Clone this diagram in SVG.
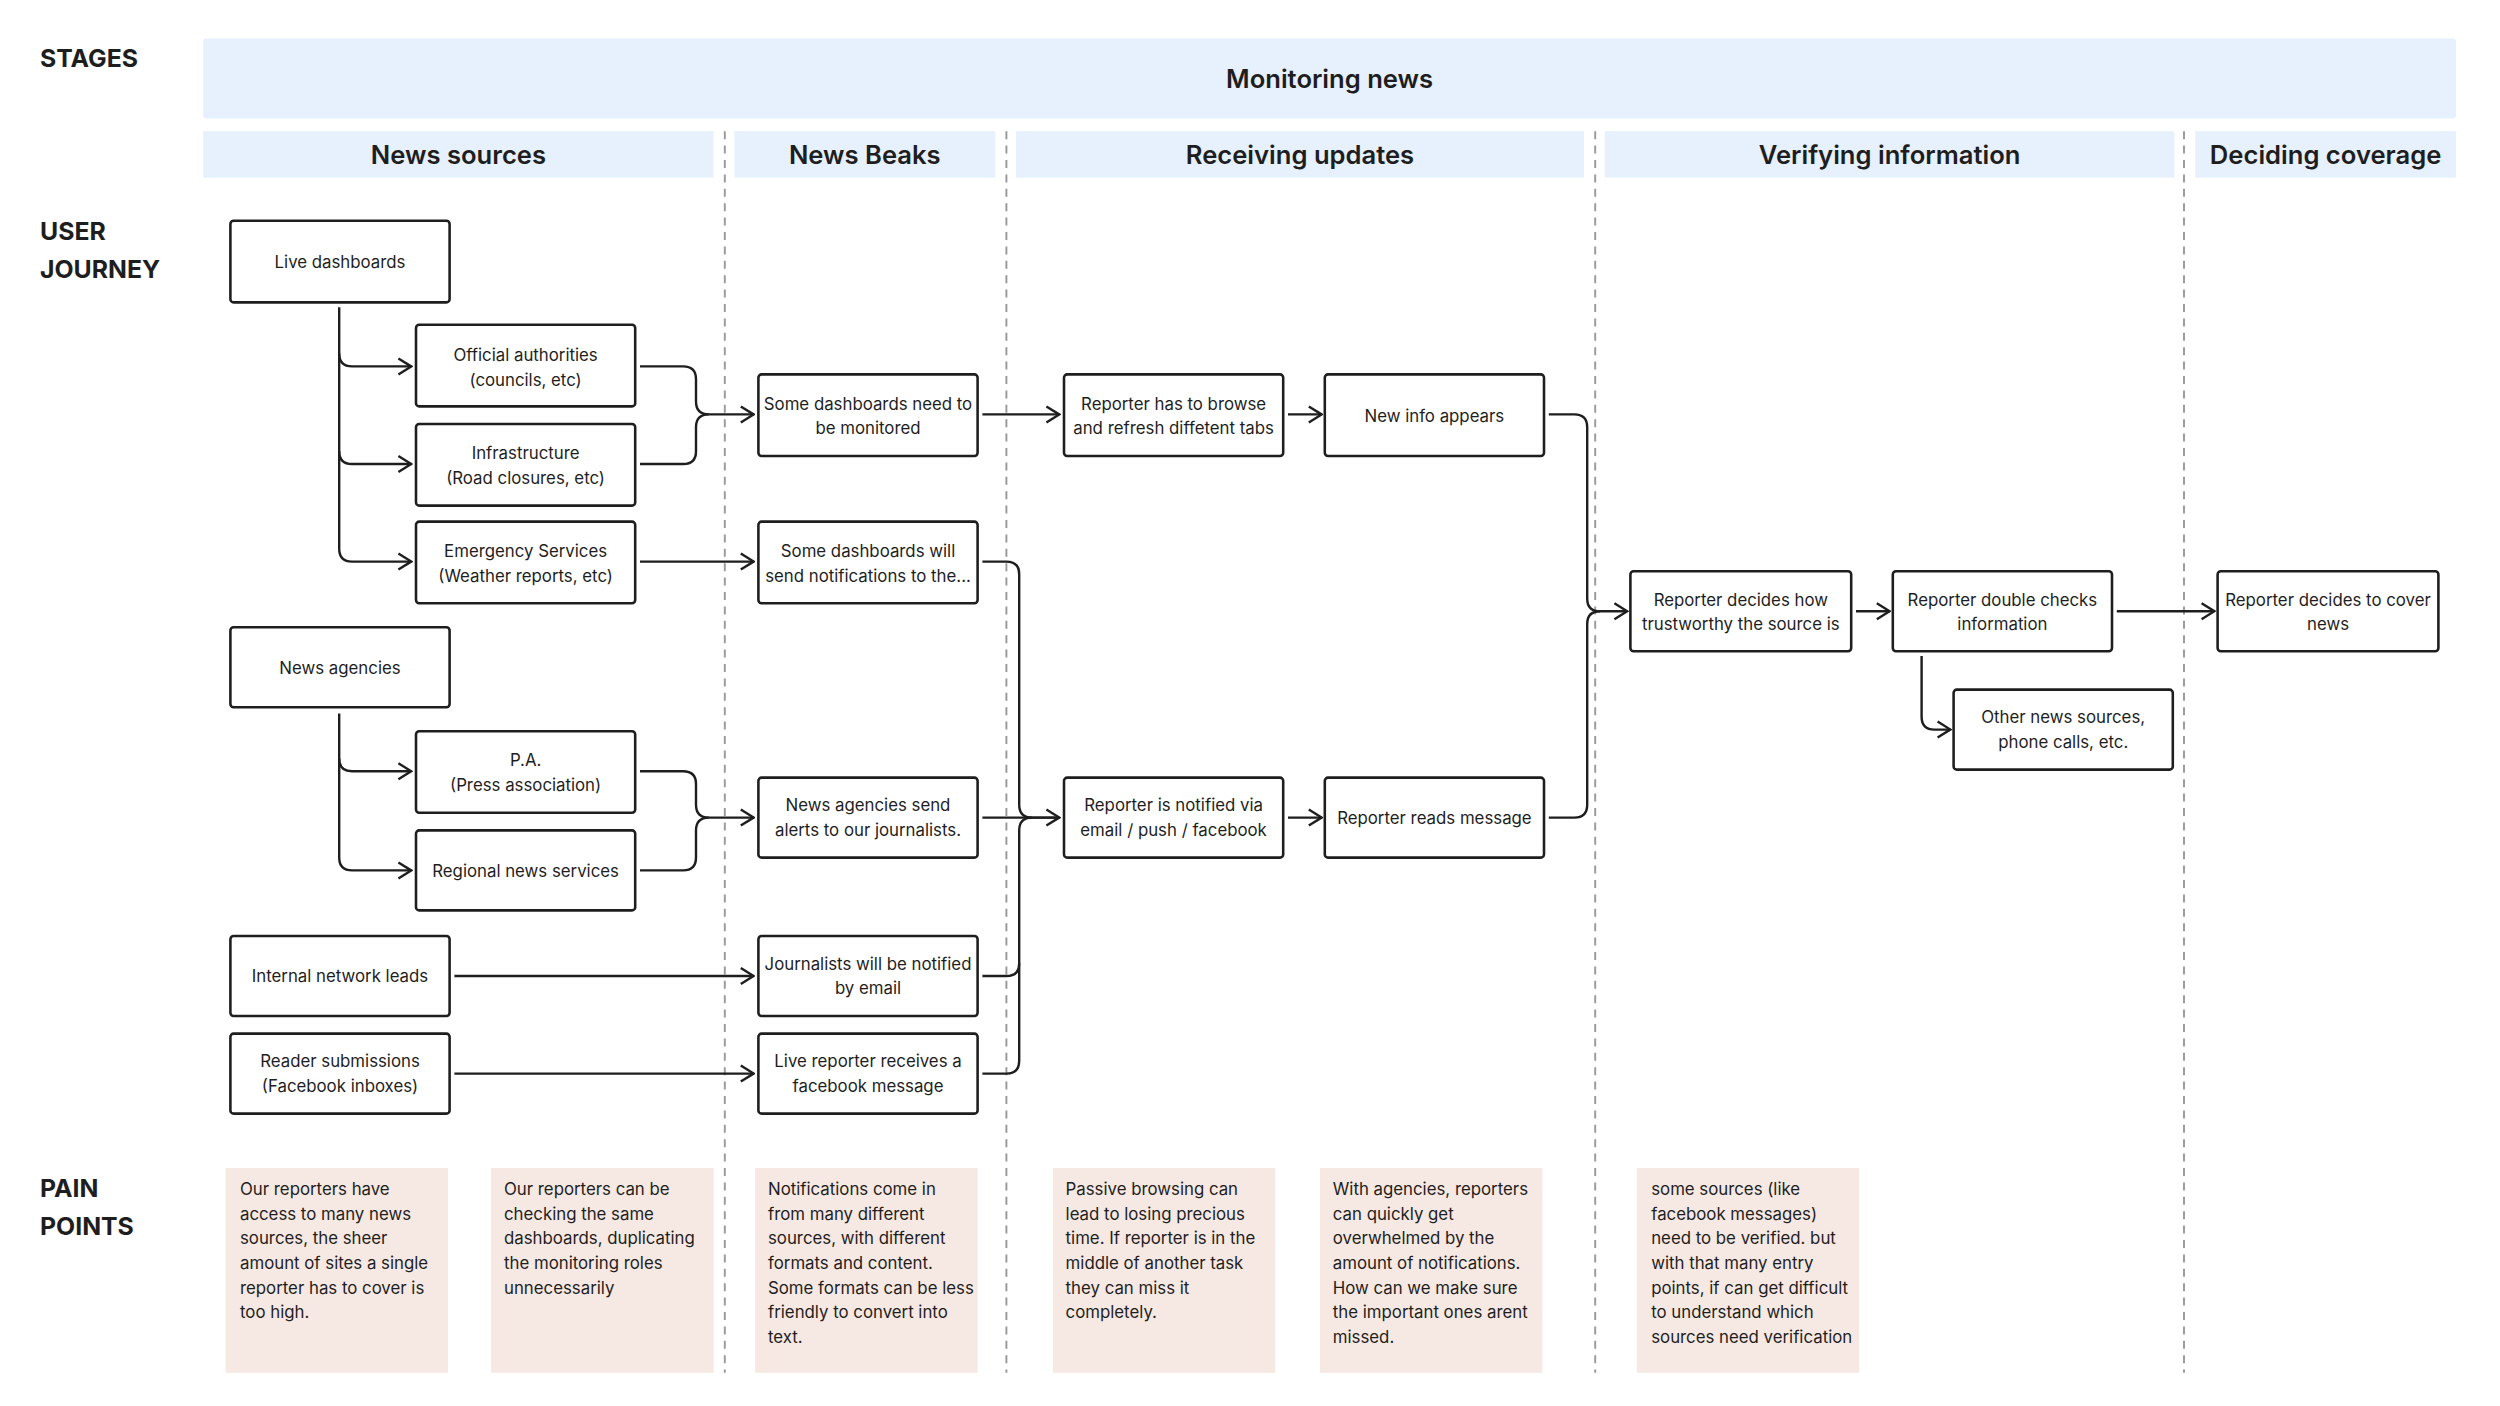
<svg xmlns="http://www.w3.org/2000/svg" width="2500" height="1406" viewBox="0 0 2500 1406">
<style>
text{font-family:Inter,"Noto Sans","Liberation Sans",sans-serif;fill:#1e1e1e}
.lbl{font-size:15.5px;font-weight:700}
.hd{font-size:16px;font-weight:600;text-anchor:middle}
.band{fill:#e7f0fd}
.dash{stroke:#999;stroke-width:1.2;stroke-dasharray:5 4}
.node rect{fill:#fff;stroke:#1e1e1e;stroke-width:1.6;rx:2}
.node text{font-size:10.5px;text-anchor:middle}
.pain rect{fill:#f6e8e2}
.pain text{font-size:10.5px}
.conn path{fill:none;stroke:#1e1e1e;stroke-width:1.5}
</style>
<defs>
<marker id="a" viewBox="0 0 10 12" refX="9" refY="6" markerWidth="10" markerHeight="12" markerUnits="userSpaceOnUse" orient="auto">
<path d="M1,1 L9,6 L1,11" fill="none" stroke="#1e1e1e" stroke-width="1.5"/>
</marker>
</defs>
<rect width="2500" height="1406" fill="#fff"/>
<g transform="scale(1.6)">
<text class="lbl" x="25" y="42">STAGES</text>
<text class="lbl" x="25" y="150">USER</text>
<text class="lbl" x="25" y="174">JOURNEY</text>
<text class="lbl" x="25" y="748">PAIN</text>
<text class="lbl" x="25" y="772">POINTS</text>
<rect class="band" x="127" y="24" width="1408" height="50" rx="2"/>
<text class="hd" x="831" y="55">Monitoring news</text>
<rect class="band" x="127" y="82" width="319" height="29"/>
<rect class="band" x="459" y="82" width="163" height="29"/>
<rect class="band" x="635" y="82" width="355" height="29"/>
<rect class="band" x="1003" y="82" width="356" height="29"/>
<rect class="band" x="1372" y="82" width="163" height="29"/>
<text class="hd" x="286.5" y="102.5">News sources</text>
<text class="hd" x="540.5" y="102.5">News Beaks</text>
<text class="hd" x="812.5" y="102.5">Receiving updates</text>
<text class="hd" x="1181" y="102.5">Verifying information</text>
<text class="hd" x="1453.5" y="102.5">Deciding coverage</text>
<g id="dividers">
<line class="dash" x1="453" y1="82" x2="453" y2="858"/>
<line class="dash" x1="629" y1="82" x2="629" y2="858"/>
<line class="dash" x1="997" y1="82" x2="997" y2="858"/>
<line class="dash" x1="1365" y1="82" x2="1365" y2="858"/>
</g>
<g class="conn" id="connectors">
<path d="M212,192 V221 Q212,229 220,229 H257" marker-end="url(#a)"/>
<path d="M212,221 V282 Q212,290 220,290 H257" marker-end="url(#a)"/>
<path d="M212,282 V343 Q212,351 220,351 H257" marker-end="url(#a)"/>
<path d="M400,229 H427 Q435,229 435,237 V251 Q435,259 443,259 H471" marker-end="url(#a)"/>
<path d="M400,290 H427 Q435,290 435,282 V267 Q435,259 443,259"/>
<path d="M400,351 H471" marker-end="url(#a)"/>
<path d="M212,446 V474 Q212,482 220,482 H257" marker-end="url(#a)"/>
<path d="M212,474 V536 Q212,544 220,544 H257" marker-end="url(#a)"/>
<path d="M400,482 H427 Q435,482 435,490 V503 Q435,511 443,511 H471" marker-end="url(#a)"/>
<path d="M400,544 H427 Q435,544 435,536 V519 Q435,511 443,511"/>
<path d="M284,610 H471" marker-end="url(#a)"/>
<path d="M284,671 H471" marker-end="url(#a)"/>
<path d="M614,259 H662" marker-end="url(#a)"/>
<path d="M614,351 H629 Q637,351 637,359 V503 Q637,511 645,511 H662" marker-end="url(#a)"/>
<path d="M614,511 H662"/>
<path d="M614,610 H629 Q637,610 637,602 V519 Q637,511 645,511"/>
<path d="M614,671 H629 Q637,671 637,663 V602"/>
<path d="M805,259 H826" marker-end="url(#a)"/>
<path d="M805,511 H826" marker-end="url(#a)"/>
<path d="M968,259 H984 Q992,259 992,267 V374 Q992,382 1000,382 H1017" marker-end="url(#a)"/>
<path d="M968,511 H984 Q992,511 992,503 V390 Q992,382 1000,382"/>
<path d="M1160,382 H1181" marker-end="url(#a)"/>
<path d="M1323,382 H1384" marker-end="url(#a)"/>
<path d="M1201,410 V448 Q1201,456 1209,456 H1219" marker-end="url(#a)"/>
</g>
<g class="node" id="n-live"><rect x="144" y="138" width="137" height="51"/><text x="212.5" y="167.5">Live dashboards</text></g>
<g class="node" id="n-official"><rect x="260" y="203" width="137" height="51"/><text x="328.5" y="225.5">Official authorities</text><text x="328.5" y="241">(councils, etc)</text></g>
<g class="node" id="n-infra"><rect x="260" y="265" width="137" height="51"/><text x="328.5" y="287">Infrastructure</text><text x="328.5" y="302.5">(Road closures, etc)</text></g>
<g class="node" id="n-emerg"><rect x="260" y="326" width="137" height="51"/><text x="328.5" y="348">Emergency Services</text><text x="328.5" y="363.5">(Weather reports, etc)</text></g>
<g class="node" id="n-agencies"><rect x="144" y="392" width="137" height="50"/><text x="212.5" y="421">News agencies</text></g>
<g class="node" id="n-pa"><rect x="260" y="457" width="137" height="51"/><text x="328.5" y="479">P.A.</text><text x="328.5" y="494.5">(Press association)</text></g>
<g class="node" id="n-regional"><rect x="260" y="519" width="137" height="50"/><text x="328.5" y="548">Regional news services</text></g>
<g class="node" id="n-internal"><rect x="144" y="585" width="137" height="50"/><text x="212.5" y="614">Internal network leads</text></g>
<g class="node" id="n-reader"><rect x="144" y="646" width="137" height="50"/><text x="212.5" y="667">Reader submissions</text><text x="212.5" y="682.5">(Facebook inboxes)</text></g>
<g class="node" id="n-need"><rect x="474" y="234" width="137" height="51"/><text x="542.5" y="256">Some dashboards need to</text><text x="542.5" y="271.5">be monitored</text></g>
<g class="node" id="n-will"><rect x="474" y="326" width="137" height="51"/><text x="542.5" y="348">Some dashboards will</text><text x="542.5" y="363.5">send notifications to the...</text></g>
<g class="node" id="n-send"><rect x="474" y="486" width="137" height="50"/><text x="542.5" y="507">News agencies send</text><text x="542.5" y="522.5">alerts to our journalists.</text></g>
<g class="node" id="n-email"><rect x="474" y="585" width="137" height="50"/><text x="542.5" y="606">Journalists will be notified</text><text x="542.5" y="621.5">by email</text></g>
<g class="node" id="n-fb"><rect x="474" y="646" width="137" height="50"/><text x="542.5" y="667">Live reporter receives a</text><text x="542.5" y="682.5">facebook message</text></g>
<g class="node" id="n-browse"><rect x="665" y="234" width="137" height="51"/><text x="733.5" y="256">Reporter has to  browse</text><text x="733.5" y="271.5">and refresh diffetent tabs</text></g>
<g class="node" id="n-newinfo"><rect x="828" y="234" width="137" height="51"/><text x="896.5" y="263.5">New info appears</text></g>
<g class="node" id="n-notified"><rect x="665" y="486" width="137" height="50"/><text x="733.5" y="507">Reporter is notified via</text><text x="733.5" y="522.5">email / push / facebook</text></g>
<g class="node" id="n-reads"><rect x="828" y="486" width="137" height="50"/><text x="896.5" y="515">Reporter reads message</text></g>
<g class="node" id="n-trust"><rect x="1019" y="357" width="138" height="50"/><text x="1088" y="378.5">Reporter decides how</text><text x="1088" y="394">trustworthy the source is</text></g>
<g class="node" id="n-double"><rect x="1183" y="357" width="137" height="50"/><text x="1251.5" y="378.5">Reporter double checks</text><text x="1251.5" y="394">information</text></g>
<g class="node" id="n-other"><rect x="1221" y="431" width="137" height="50"/><text x="1289.5" y="452">Other news sources,</text><text x="1289.5" y="467.5">phone calls, etc.</text></g>
<g class="node" id="n-cover"><rect x="1386" y="357" width="138" height="50"/><text x="1455" y="378.5">Reporter decides to cover</text><text x="1455" y="394">news</text></g>
<g class="pain" id="pain1"><rect x="141" y="730" width="139" height="128"/><text x="150" y="747"><tspan x="150">Our reporters have</tspan><tspan x="150" dy="15.4">access to many news</tspan><tspan x="150" dy="15.4">sources, the sheer</tspan><tspan x="150" dy="15.4">amount of sites a single</tspan><tspan x="150" dy="15.4">reporter has to cover is</tspan><tspan x="150" dy="15.4">too high.</tspan></text></g>
<g class="pain" id="pain2"><rect x="307" y="730" width="139" height="128"/><text x="315" y="747"><tspan x="315">Our reporters can be</tspan><tspan x="315" dy="15.4">checking the same</tspan><tspan x="315" dy="15.4">dashboards, duplicating</tspan><tspan x="315" dy="15.4">the monitoring roles</tspan><tspan x="315" dy="15.4">unnecessarily</tspan></text></g>
<g class="pain" id="pain3"><rect x="472" y="730" width="139" height="128"/><text x="480" y="747"><tspan x="480">Notifications come in</tspan><tspan x="480" dy="15.4">from  many different</tspan><tspan x="480" dy="15.4">sources, with different</tspan><tspan x="480" dy="15.4">formats and content.</tspan><tspan x="480" dy="15.4">Some formats can be less</tspan><tspan x="480" dy="15.4">friendly to convert into</tspan><tspan x="480" dy="15.4">text.</tspan></text></g>
<g class="pain" id="pain4"><rect x="658" y="730" width="139" height="128"/><text x="666" y="747"><tspan x="666">Passive browsing can</tspan><tspan x="666" dy="15.4">lead to losing precious</tspan><tspan x="666" dy="15.4">time. If reporter is in the</tspan><tspan x="666" dy="15.4">middle of another task</tspan><tspan x="666" dy="15.4">they can miss it</tspan><tspan x="666" dy="15.4">completely.</tspan></text></g>
<g class="pain" id="pain5"><rect x="825" y="730" width="139" height="128"/><text x="833" y="747"><tspan x="833">With agencies, reporters</tspan><tspan x="833" dy="15.4">can quickly get</tspan><tspan x="833" dy="15.4">overwhelmed by the</tspan><tspan x="833" dy="15.4">amount of notifications.</tspan><tspan x="833" dy="15.4">How can we make sure</tspan><tspan x="833" dy="15.4">the important ones arent</tspan><tspan x="833" dy="15.4">missed.</tspan></text></g>
<g class="pain" id="pain6"><rect x="1023" y="730" width="139" height="128"/><text x="1032" y="747"><tspan x="1032">some sources (like</tspan><tspan x="1032" dy="15.4">facebook messages)</tspan><tspan x="1032" dy="15.4">need to be verified. but</tspan><tspan x="1032" dy="15.4">with that many entry</tspan><tspan x="1032" dy="15.4">points, if can get difficult</tspan><tspan x="1032" dy="15.4">to understand which</tspan><tspan x="1032" dy="15.4">sources need verification</tspan></text></g>
</g>
</svg>
